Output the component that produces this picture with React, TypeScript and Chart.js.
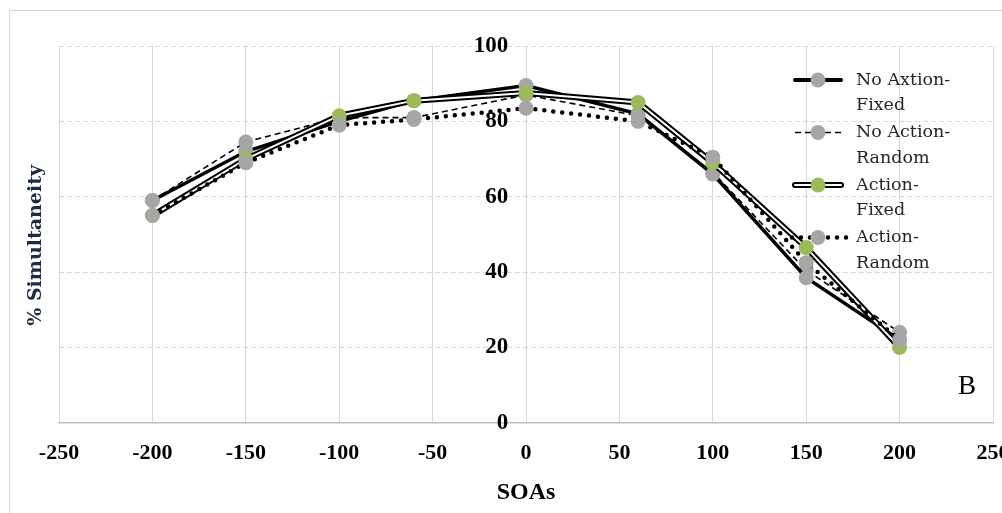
import React, { useEffect, useRef } from 'react';
import { Chart, registerables } from 'chart.js';

Chart.register(...registerables);

// ---- data ----
const soaValues = [-200, -150, -100, -60, 0, 60, 100, 150, 200];
const noActionFixed = [59, 72, 80, 85.5, 89.5, 82, 66, 38.5, 22];
const noActionRandom = [59, 74.5, 81, 81, 87, 81.5, 66.5, 40.5, 24];
const actionFixed = [55, 70, 81.5, 85.5, 87.5, 85, 69, 46.5, 20];
const actionRandom = [55, 69, 79, 80.5, 83.5, 80, 70.5, 42.5, 22];

const seriesLabels = [
  ['No Axtion-', 'Fixed'],
  ['No Action-', 'Random'],
  ['Action-', 'Fixed'],
  ['Action-', 'Random'],
];
const xAxisTitle = 'SOAs';
const yAxisTitle = '% Simultaneity';
const panelLetter = 'B';
const xMin = -250;
const xMax = 250;
const xStep = 50;
const yMin = 0;
const yMax = 100;
const yStep = 20;

const W = 1040;
const H = 513;
const GRAY = '#a6a6a6';
const GREEN = '#9bbb59';
const SERIF = '"Liberation Serif", "DejaVu Serif", serif';
const DSERIF = '"DejaVu Serif", "Liberation Serif", serif';

type Kind = 'thick' | 'dashed' | 'double' | 'dotted';
const legendKinds: Kind[] = ['thick', 'dashed', 'double', 'dotted'];
const legendMarker = [GRAY, GRAY, GREEN, GRAY];

function strokeSample(ctx: CanvasRenderingContext2D, kind: Kind, x1: number, x2: number, y: number) {
  ctx.save();
  ctx.strokeStyle = '#000';
  ctx.lineCap = 'round';
  if (kind === 'thick') {
    ctx.lineWidth = 4;
    ctx.beginPath(); ctx.moveTo(x1, y); ctx.lineTo(x2, y); ctx.stroke();
  } else if (kind === 'dashed') {
    ctx.lineCap = 'butt';
    ctx.lineWidth = 1.6;
    ctx.setLineDash([6, 4]);
    ctx.beginPath(); ctx.moveTo(x1, y); ctx.lineTo(x2, y); ctx.stroke();
  } else if (kind === 'double') {
    ctx.lineWidth = 6;
    ctx.beginPath(); ctx.moveTo(x1, y); ctx.lineTo(x2, y); ctx.stroke();
    ctx.strokeStyle = '#fff';
    ctx.lineWidth = 2;
    ctx.beginPath(); ctx.moveTo(x1, y); ctx.lineTo(x2, y); ctx.stroke();
  } else {
    ctx.lineWidth = 4.5;
    ctx.setLineDash([0, 9]);
    ctx.beginPath(); ctx.moveTo(x1 - 3, y); ctx.lineTo(x2 + 6, y); ctx.stroke();
  }
  ctx.restore();
}

const decorPlugin = {
  id: 'decor',
  beforeDraw(chart: any) {
    const ctx = chart.ctx as CanvasRenderingContext2D;
    ctx.save();
    ctx.fillStyle = '#fff';
    ctx.fillRect(0, 0, chart.width, chart.height);
    ctx.strokeStyle = '#d9d9d9';
    ctx.lineWidth = 1;
    ctx.strokeRect(9.5, 10.5, chart.width + 20, chart.height + 20);
    ctx.restore();
  },
  afterDraw(chart: any) {
    const ctx = chart.ctx as CanvasRenderingContext2D;
    const area = chart.chartArea;
    ctx.save();
    // y-axis title
    ctx.translate(36, (area.top + area.bottom) / 2 + 11);
    ctx.rotate(-Math.PI / 2);
    ctx.fillStyle = '#1f2a44';
    ctx.font = `bold 19px ${DSERIF}`;
    ctx.textAlign = 'center';
    ctx.textBaseline = 'middle';
    ctx.fillText(yAxisTitle, 0, 0);
    ctx.restore();

    // panel letter
    ctx.save();
    ctx.fillStyle = '#000';
    ctx.font = `27px ${SERIF}`;
    ctx.textAlign = 'center';
    ctx.textBaseline = 'middle';
    ctx.fillText(panelLetter, 967, 387);
    ctx.restore();

    // legend
    ctx.save();
    const lx1 = 795, lx2 = 841, mx = 818, tx = 856;
    let y = 80;
    seriesLabels.forEach((lines, i) => {
      strokeSample(ctx, legendKinds[i], lx1, lx2, y);
      ctx.fillStyle = legendMarker[i];
      ctx.beginPath(); ctx.arc(mx, y, 7.5, 0, Math.PI * 2); ctx.fill();
      ctx.fillStyle = '#262626';
      ctx.font = `17.5px ${DSERIF}`;
      ctx.textAlign = 'left';
      ctx.textBaseline = 'middle';
      lines.forEach((t, j) => ctx.fillText(t, tx, y + j * 25.5));
      y += 52.5;
    });
    ctx.restore();
  },
};

export default function App() {
  const ref = useRef<HTMLCanvasElement>(null);
  useEffect(() => {
    if (!ref.current) return;
    const pts = (ys: number[]) => soaValues.map((x, i) => ({ x, y: ys[i] }));
    const labelOf = (i: number) => seriesLabels[i].join('');
    const chart = new Chart(ref.current, {
      type: 'line',
      data: {
        datasets: [
          {
            label: labelOf(3), data: pts(actionRandom), borderColor: '#000', borderWidth: 4.5,
            borderDash: [0, 9], borderCapStyle: 'round', pointRadius: 7.5, pointBackgroundColor: GRAY,
            pointBorderWidth: 0, order: 0,
          },
          {
            label: labelOf(2), data: pts(actionFixed), borderColor: '#fff', borderWidth: 2,
            pointRadius: 7.5, pointBackgroundColor: GREEN, pointBorderWidth: 0, order: 1,
          },
          {
            label: labelOf(2) + ' outline', data: pts(actionFixed), borderColor: '#000', borderWidth: 6,
            borderCapStyle: 'round', pointRadius: 0, order: 2,
          },
          {
            label: labelOf(0), data: pts(noActionFixed), borderColor: '#000', borderWidth: 3.5,
            pointRadius: 7.5, pointBackgroundColor: GRAY, pointBorderWidth: 0, order: 3,
          },
          {
            label: labelOf(1), data: pts(noActionRandom), borderColor: '#000', borderWidth: 1.6,
            borderDash: [6, 4], pointRadius: 7.5, pointBackgroundColor: GRAY, pointBorderWidth: 0, order: 4,
          },
        ] as any,
      },
      options: {
        animation: false,
        responsive: false,
        layout: { padding: { left: 59, right: W - 993, top: 46, bottom: 5.5 } },
        plugins: { legend: { display: false }, tooltip: { enabled: false } },
        scales: {
          x: {
            type: 'linear', min: xMin, max: xMax,
            ticks: { stepSize: xStep, color: '#000', padding: 3, font: { family: SERIF, size: 22, weight: 'bold' } },
            grid: { color: '#d9d9d9', drawTicks: true, tickLength: 14, tickColor: 'rgba(0,0,0,0)', lineWidth: 1 },
            border: { color: '#bfbfbf', width: 1.5 },
            title: {
              display: true, text: xAxisTitle, color: '#000',
              font: { family: SERIF, size: 24, weight: 'bold' }, padding: { top: 9.5, bottom: 0 },
            },
          },
          y: {
            type: 'linear', position: { x: -9.5 } as any, min: yMin, max: yMax,
            ticks: { stepSize: yStep, color: '#000', padding: 0, font: { family: SERIF, size: 23, weight: 'bold' } },
            grid: { color: '#d9d9d9', drawTicks: false, lineWidth: 1 },
            border: { display: false, dash: [5, 3] },
          },
        },
      } as any,
      plugins: [decorPlugin],
    });
    return () => chart.destroy();
  }, []);

  return (
    <div style={{ position: 'absolute', left: 0, top: 0, width: 1002, height: 513, overflow: 'hidden', background: '#fff' }}>
      <canvas ref={ref} width={W} height={H} style={{ display: 'block' }} />
    </div>
  );
}
